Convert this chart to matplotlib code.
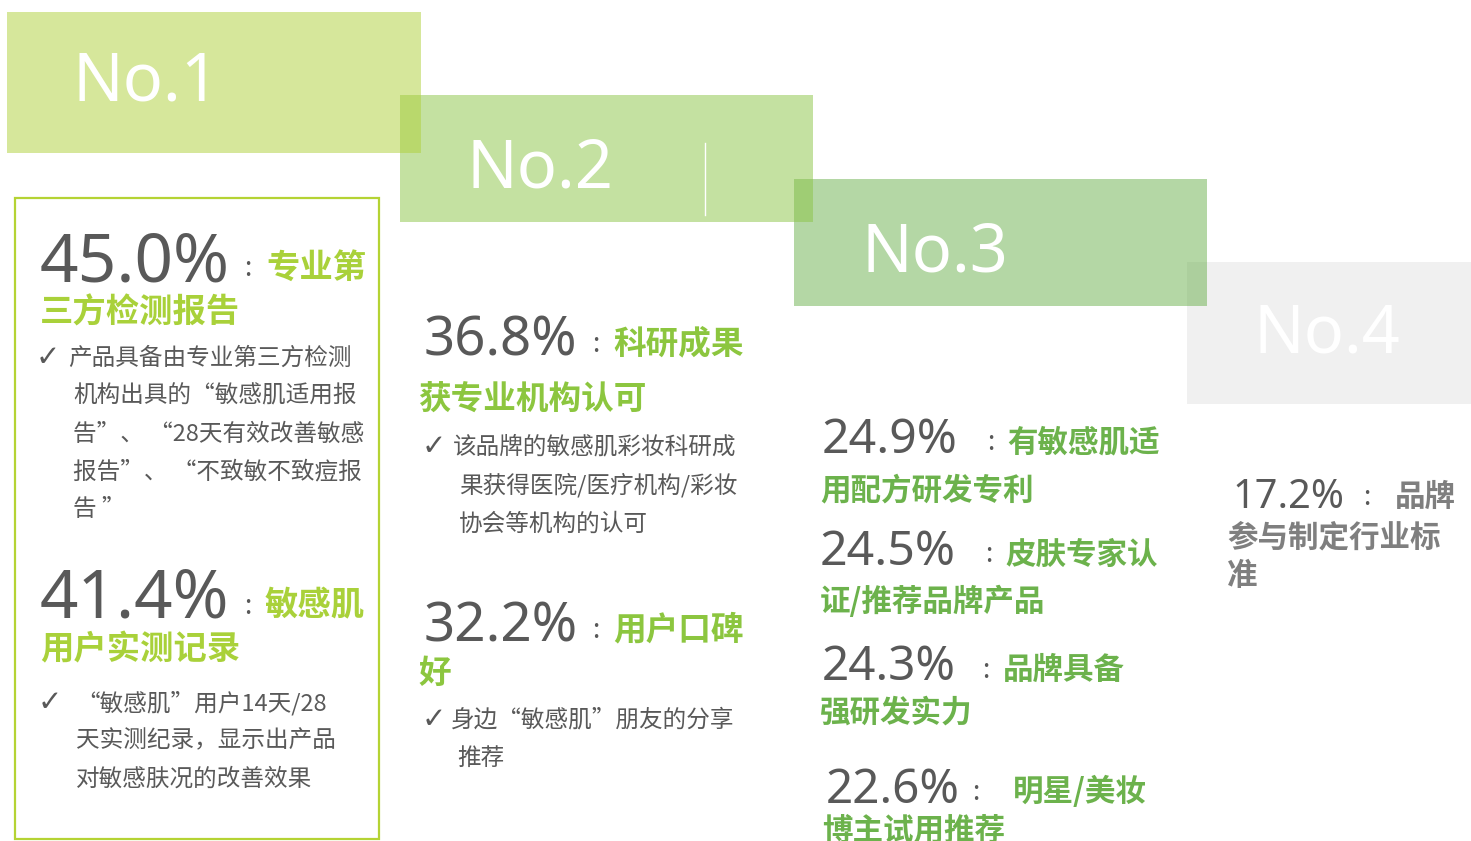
import matplotlib
matplotlib.use('Agg')
import matplotlib.pyplot as plt
from matplotlib.patches import Rectangle

# ranking headers
ranks = ['No.1', 'No.2', 'No.3', 'No.4']

# share of respondents for each reason (%)
shares = [45.0, 41.4, 36.8, 32.2, 24.9, 24.5, 24.3, 22.6, 17.2]

# reason text: first part (after the colon) and the following lines
reason_a = ['专业第', '敏感肌', '科研成果', '用户口碑', '有敏感肌适',
            '皮肤专家认', '品牌具备', '明星/美妆', '品牌']
reason_b = [['三方检测报告'], ['用户实测记录'], ['获专业机构认可'], ['好'],
            ['用配方研发专利'], ['证/推荐品牌产品'], ['强研发实力'],
            ['博主试用推荐'], ['参与制定行业标', '准']]

# explanatory notes under the top four reasons
notes = [
    ['产品具备由专业第三方检测', '机构出具的“敏感肌适用报', '告”、 “28天有效改善敏感',
     '报告”、 “不致敏不致痘报', '告 ”'],
    ['“敏感肌”用户14天/28', '天实测纪录，显示出产品', '对敏感肤况的改善效果'],
    ['该品牌的敏感肌彩妆科研成', '果获得医院/医疗机构/彩妆', '协会等机构的认可'],
    ['身边“敏感肌”朋友的分享', '推荐'],
]

CJK = ['Noto Sans CJK SC', 'DejaVu Sans']
NUM = ['Noto Sans', 'DejaVu Sans']
GRAY = '#595959'

W, H = 1471, 841
fig = plt.figure(figsize=(W / 100, H / 100), dpi=100)
ax = fig.add_axes([0, 0, 1, 1])
ax.set_xlim(0, W)
ax.set_ylim(H, 0)
ax.axis('off')
renderer = fig.canvas.get_renderer()

# header boxes (x0, y0, x1, y1) in pixels, colour, alpha
boxes = [(7, 12, 421, 153, '#AFD139', 0.5),
         (400, 95, 813, 222, '#8BC545', 0.5),
         (794, 179, 1207, 306, '#6AB04C', 0.5),
         (1187, 262, 1471, 404, '#F0F0F0', 1.0)]
rank_xy = [(73, 100), (467, 187), (862, 271), (1254, 352)]
for i, (x0, y0, x1, y1, c, a) in enumerate(boxes):
    ax.add_patch(Rectangle((x0, y0), x1 - x0, y1 - y0, facecolor=c,
                           alpha=a, edgecolor='none', zorder=4 - i))
    ax.text(rank_xy[i][0], rank_xy[i][1], ranks[i], color='white',
            fontsize=48, family=['Noto Sans', 'DejaVu Sans'],
            ha='left', va='baseline', zorder=10)
ax.plot([705, 705], [143, 215], color='white', lw=1, zorder=10)

# outline around the No.1 column
ax.add_patch(Rectangle((15, 198), 364, 641, facecolor='none',
                       edgecolor='#B5D334', lw=1.6, zorder=5))

# layout of each reason block
num_xy = [(40, 282), (40, 618), (424, 355), (424, 642), (822, 453),
          (820, 565), (822, 680), (826, 803), (1232, 508)]
num_size = [50, 50, 42, 42, 36, 36, 36, 37, 34]
num_w = [190, 190, 154, 154, 136, 136, 134, 134, 112]
colon_x = [244, 244, 592, 592, 987, 985, 982, 972, 1363]
a_xy = [(266, 268), (265, 606), (613, 344), (613, 630), (1007, 442),
        (1005, 555), (1003, 670), (1013, 792), (1395, 497)]
b_xy = [(40, 313), (40, 650), (418, 400), (418, 673), (820, 490),
        (820, 602), (820, 713), (822, 830), (1227, 538)]
lab_size = [24, 24, 23.5, 23.5, 22, 22, 22, 22, 22]
lab_col = ['#A9D13A', '#A9D13A', '#8CC63F', '#8CC63F', '#6CB24C',
           '#6CB24C', '#6CB24C', '#6CB24C', '#7F7F7F']

for i, v in enumerate(shares):
    nx, ny = num_xy[i]
    t = ax.text(nx, ny, f'{v:.1f}%', fontsize=num_size[i], family=NUM,
                fontstretch='condensed', color=GRAY, ha='left',
                va='baseline', zorder=10)
    # shrink the number if the available font is wider than the original
    w = t.get_window_extent(renderer).width
    if w > num_w[i]:
        t.set_fontsize(num_size[i] * num_w[i] / w)
    ax.text(colon_x[i], a_xy[i][1], ':', fontsize=19, family=CJK,
            color=GRAY, ha='left', va='center', zorder=10)
    ax.text(a_xy[i][0], a_xy[i][1], reason_a[i], fontsize=lab_size[i],
            family=CJK, weight='bold', color=lab_col[i], ha='left',
            va='center', zorder=10)
    bx, by = b_xy[i]
    for k, line in enumerate(reason_b[i]):
        ax.text(bx, by + 38 * k, line, fontsize=lab_size[i], family=CJK,
                weight='bold', color=lab_col[i], ha='left', va='center',
                zorder=10)

# notes with check marks
check_xy = [(36, 358), (38, 703), (422, 447), (422, 720)]
note_x0 = [[68, 73, 73, 73, 73], [76, 76, 76], [453, 459, 459], [451, 457]]
note_y0 = [358, 703, 447, 720]
note_step = [38, 38, 38.5, 38]
for i, lines in enumerate(notes):
    ax.text(check_xy[i][0], check_xy[i][1], '✓', fontsize=21,
            family=['DejaVu Sans'], color=GRAY, ha='left', va='center',
            zorder=10)
    for k, line in enumerate(lines):
        ax.text(note_x0[i][k], note_y0[i] + note_step[i] * k, line,
                fontsize=17, family=CJK, color=GRAY, ha='left',
                va='center', zorder=10)

fig.savefig('out.png', dpi=100)
